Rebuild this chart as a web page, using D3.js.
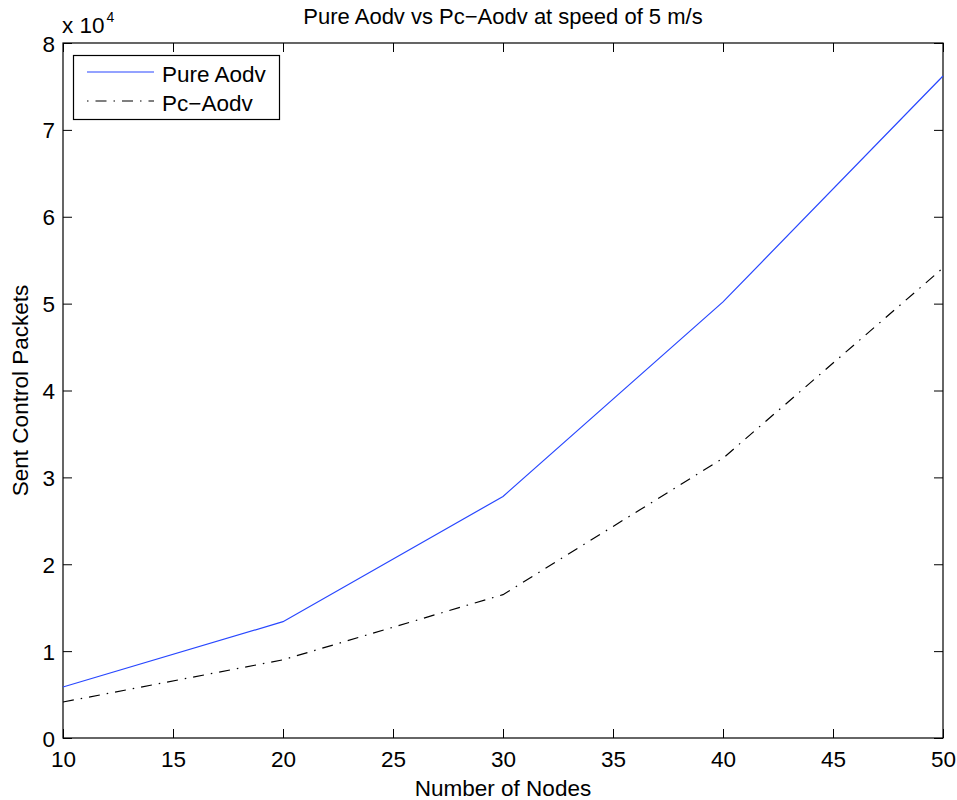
<!DOCTYPE html>
<html><head><meta charset="utf-8">
<script src="https://cdn.jsdelivr.net/npm/d3@7"></script>
<style>body{margin:0;background:#fff}svg{display:block}text{font-family:"Liberation Sans",Arial,sans-serif;fill:#000}</style>
</head><body><svg id="c" width="957" height="800"></svg>
<script>
const nodes = [10, 20, 30, 40, 50];
const pureAodv = [5870, 13390, 27800, 50200, 76200];
const pcAodv = [4140, 9000, 16500, 32200, 54100];
const xTicks = [10, 15, 20, 25, 30, 35, 40, 45, 50];
const yTicks = [0, 1, 2, 3, 4, 5, 6, 7, 8];
const seriesNames = ["Pure Aodv", "Pc\u2212Aodv"];

const svg = d3.select("#c");
const L = 63, R = 943, T = 43, B = 738;
const FS = 22.5;
const x = d3.scaleLinear().domain([10, 50]).range([L, R]);
const y = d3.scaleLinear().domain([0, 80000]).range([B, T]);

const tk = 9;
svg.append("rect").attr("x", L).attr("y", T).attr("width", R - L).attr("height", B - T)
  .attr("fill", "none").attr("stroke", "#000").attr("stroke-width", 1.2);

const gx = svg.append("g").attr("transform", `translate(0,${B})`)
  .call(d3.axisBottom(x).tickValues(xTicks).tickSize(-tk).tickPadding(0).tickFormat(d3.format("d")));
const gxt = svg.append("g").attr("transform", `translate(0,${T})`)
  .call(d3.axisTop(x).tickValues(xTicks).tickSize(-tk).tickFormat(""));
const gy = svg.append("g").attr("transform", `translate(${L},0)`)
  .call(d3.axisLeft(y).tickValues(yTicks.map(v => v * 10000)).tickSize(-tk).tickPadding(0).tickFormat(d => d / 10000));
const gyr = svg.append("g").attr("transform", `translate(${R},0)`)
  .call(d3.axisRight(y).tickValues(yTicks.map(v => v * 10000)).tickSize(-tk).tickFormat(""));
[gx, gxt, gy, gyr].forEach(g => {
  g.select(".domain").remove();
  g.selectAll(".tick line").attr("stroke", "#000").attr("stroke-width", 1);
  g.selectAll(".tick text").attr("font-size", FS).attr("font-family", '"Liberation Sans",Arial,sans-serif').attr("fill", "#000");
});
gx.selectAll(".tick text").attr("y", 29).attr("dy", null);
gy.selectAll(".tick text").attr("x", -8).attr("dy", "0.36em");

const line = d3.line().x((d, i) => x(nodes[i])).y(d => y(d));
svg.append("path").datum(pureAodv).attr("d", line).attr("fill", "none")
  .attr("stroke", "#2847ff").attr("stroke-width", 1.2);
svg.append("path").datum(pcAodv).attr("d", line).attr("fill", "none")
  .attr("stroke", "#000").attr("stroke-width", 1.2).attr("stroke-dasharray", "11,7,1.5,7");

// exponent label
const ex = svg.append("text").attr("x", L - 1).attr("y", 33).attr("font-size", FS);
ex.append("tspan").text("x 10");
ex.append("tspan").attr("dy", -11).attr("dx", 2).attr("font-size", 14).text("4");

svg.append("text").attr("x", (L + R) / 2).attr("y", 24).attr("text-anchor", "middle")
  .attr("font-size", 22).text("Pure Aodv vs Pc\u2212Aodv at speed of 5 m/s");
svg.append("text").attr("x", (L + R) / 2).attr("y", 796).attr("text-anchor", "middle")
  .attr("font-size", FS).text("Number of Nodes");
svg.append("text").attr("transform", `translate(28,${(T + B) / 2}) rotate(-90)`)
  .attr("text-anchor", "middle").attr("font-size", FS).text("Sent Control Packets");

// legend
const lg = svg.append("g");
lg.append("rect").attr("x", 73.5).attr("y", 55.5).attr("width", 206).attr("height", 64)
  .attr("fill", "#fff").attr("stroke", "#000").attr("stroke-width", 1.2);
const ly = [72, 101];
lg.append("line").attr("x1", 87).attr("x2", 154).attr("y1", ly[0]).attr("y2", ly[0])
  .attr("stroke", "#2847ff").attr("stroke-width", 1.2);
lg.append("line").attr("x1", 87).attr("x2", 154).attr("y1", ly[1]).attr("y2", ly[1])
  .attr("stroke", "#000").attr("stroke-width", 1.2).attr("stroke-dasharray", "1.5,7,11,7");
seriesNames.forEach((n, i) => {
  lg.append("text").attr("x", 162).attr("y", ly[i] + 9.5).attr("font-size", FS).text(n);
});
</script></body></html>
